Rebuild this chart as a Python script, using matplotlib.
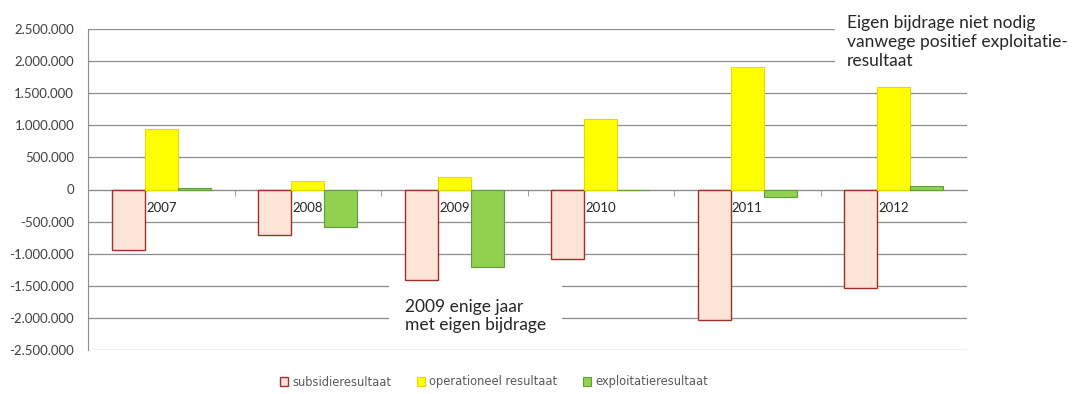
import numpy as np
import matplotlib
matplotlib.use('Agg')
import matplotlib.pyplot as plt
from matplotlib.ticker import FuncFormatter, FixedLocator

# data (gelezen uit de grafiek)
jaren = ['2007', '2008', '2009', '2010', '2011', '2012']
subsidieresultaat = [-940000, -710000, -1410000, -1090000, -2040000, -1530000]
operationeel_resultaat = [950000, 135000, 200000, 1095000, 1915000, 1600000]
exploitatieresultaat = [25000, -590000, -1210000, 0, -120000, 60000]

plt.rcParams['font.family'] = ['Lato', 'DejaVu Sans']

fig = plt.figure(figsize=(10.72, 3.94), dpi=100)
ax = fig.add_axes([88 / 1072, 44 / 394, 879 / 1072, 321 / 394])

x = np.arange(len(jaren))
w = 0.225
ax.bar(x - w, subsidieresultaat, w, color='#FCE4D6', edgecolor='#A0302A', linewidth=1,
       label='subsidieresultaat', zorder=3)
ax.bar(x, operationeel_resultaat, w, color='#FFFF00', edgecolor='#E6D800', linewidth=0.8,
       label='operationeel resultaat', zorder=3)
ax.bar(x + w, exploitatieresultaat, w, color='#92D050', edgecolor='#5E9E3A', linewidth=0.8,
       label='exploitatieresultaat', zorder=3)

ax.set_xlim(-0.5, len(jaren) - 0.5)
ax.set_ylim(-2500000, 2500000)
ax.set_yticks(np.arange(-2500000, 2500001, 500000))
ax.yaxis.set_major_formatter(FuncFormatter(lambda v, p: f'{int(v):,}'.replace(',', '.')))
ax.tick_params(axis='y', length=0, pad=10, labelsize=9.5, labelcolor='#404040')
ax.grid(axis='y', color='#8C8C8C', linewidth=0.9, zorder=0)

# x-as op de nullijn
for s in ['top', 'right']:
    ax.spines[s].set_visible(False)
ax.spines['bottom'].set_position(('data', 0))
ax.spines['bottom'].set_color('#8C8C8C')
ax.spines['left'].set_color('#8C8C8C')
ax.set_xticks(x)
ax.set_xticklabels(jaren)
ax.xaxis.set_minor_locator(FixedLocator(np.arange(0.5, len(jaren) - 0.5, 1)))
ax.tick_params(axis='x', which='major', length=0, pad=9, labelsize=9.5, labelcolor='#262626')
ax.tick_params(axis='x', which='minor', length=4, direction='out', color='#8C8C8C')

# opmerkingen
fig.text(405 / 1072, 1 - 316 / 394, '2009 enige jaar\nmet eigen bijdrage', fontsize=12.5,
         color='#262626', va='center', ha='left', linespacing=1.2,
         bbox=dict(facecolor='white', edgecolor='none', boxstyle='square,pad=0.9'), zorder=5)
fig.text(847 / 1072, 1 - 42 / 394, 'Eigen bijdrage niet nodig\nvanwege positief exploitatie-\nresultaat',
         fontsize=12.5, color='#262626', va='center', ha='left', linespacing=1.25,
         bbox=dict(facecolor='white', edgecolor='none', boxstyle='square,pad=0.7'), zorder=5)

leg = fig.legend(loc='center', bbox_to_anchor=(494 / 1072, 1 - 382 / 394), ncol=3, frameon=False,
                 prop={'family': 'DejaVu Sans', 'size': 8.3}, handlelength=0.7, handleheight=0.7,
                 handletextpad=0.4, columnspacing=2.2, labelcolor='#595959')

fig.savefig('out.png', dpi=100)
